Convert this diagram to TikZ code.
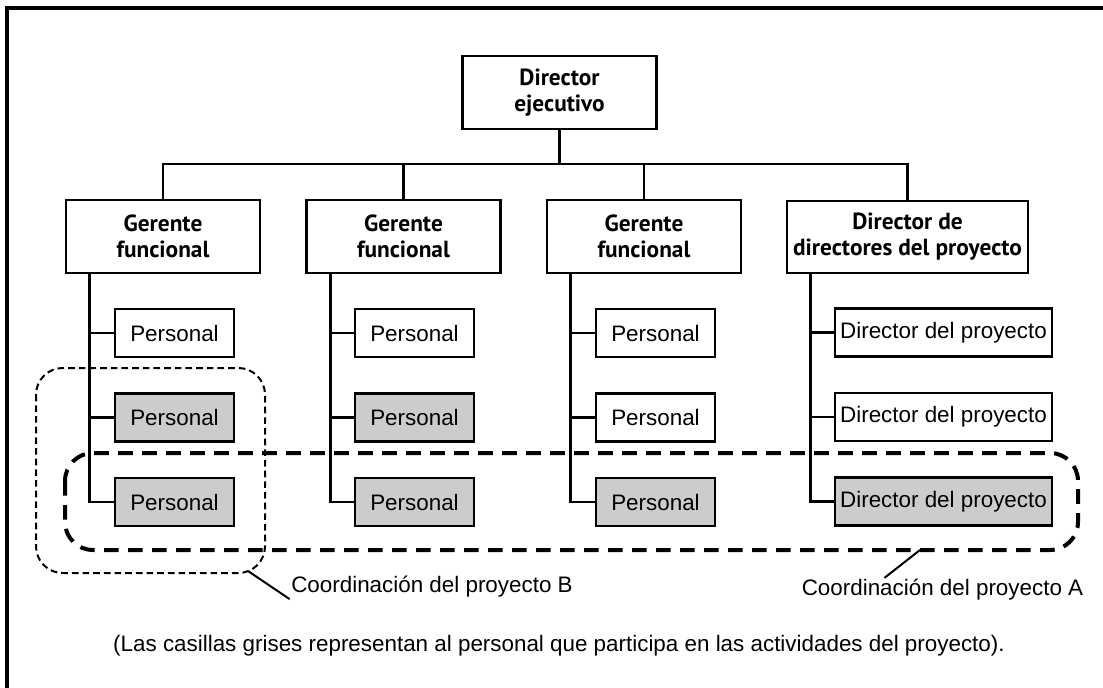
\documentclass[tikz,border=0pt]{standalone}
\usepackage{fontspec}
\setmainfont{Liberation Sans}
\newfontfamily\titulo{PT Sans}
\usetikzlibrary{positioning}

\begin{document}
\begin{tikzpicture}[
        x=0.75pt, y=-0.75pt,
        node distance=63.4pt,
        jefe/.style={
            rectangle,
            draw=black,
            line width=1.9pt,
            fill=white,
            minimum width=145.5pt,
            minimum height=54.75pt,
            inner sep=0pt,
            align=center,
            font=\titulo\fontsize{17.5}{19.5}\selectfont\bfseries
        },
        personal/.style={
            rectangle,
            draw=black,
            line width=1.9pt,
            fill=white,
            minimum width=89.25pt,
            minimum height=36pt,
            inner sep=0pt,
            font=\fontsize{16.8}{20}\selectfont
        },
        gris/.style={fill=black!20},
        linea/.style={line width=1.9pt},
        grupoA/.style={line width=3pt, dash pattern=on 11pt off 7pt, rounded corners=21pt},
        grupoB/.style={line width=1.5pt, dash pattern=on 5pt off 3pt, rounded corners=20pt},
        etiqueta/.style={inner sep=1pt, font=\fontsize{16.8}{20}\selectfont}
    ]
    \useasboundingbox (0,0) rectangle (1103,688);
    \draw[line width=3pt] (7,688) -- (7,8.5) -- (1103,8.5);

    % jefes
    \node[jefe] (dir) at (559.5,92.5) {Director\\ ejecutivo};
    \node[jefe] (g1) at (163,236.5) {Gerente\\ funcional};
    \node[jefe] (g2) at (403.5,236.5) {Gerente\\ funcional};
    \node[jefe] (g3) at (644,236.5) {Gerente\\ funcional};
    \node[jefe, minimum width=180.75pt, minimum height=54pt] (g4) at (907.5,237) {Director de\\ directores del proyecto};

    % personal
    \node[personal] (p11) at (174.5,333) {Personal};
    \node[personal, gris, below of=p11] (p12) {Personal};
    \node[personal, gris, below of=p12] (p13) {Personal};
    \node[personal] (p21) at (414.5,333) {Personal};
    \node[personal, gris, below of=p21] (p22) {Personal};
    \node[personal, gris, below of=p22] (p23) {Personal};
    \node[personal] (p31) at (655.5,333) {Personal};
    \node[personal, below of=p31] (p32) {Personal};
    \node[personal, gris, below of=p32] (p33) {Personal};
    \node[personal, minimum width=162.75pt] (d1) at (943.5,332.5) {Director del proyecto};
    \node[personal, minimum width=162.75pt, below of=d1] (d2) {Director del proyecto};
    \node[personal, gris, minimum width=162.75pt, below of=d2] (d3) {Director del proyecto};

    % lineas de mando
    \coordinate (bus) at (0,164);
    \draw[linea] (dir.south) -- (dir.south |- bus);
    \draw[linea] (g1.north) -- (g1.north |- bus) -- (g4.north |- bus) -- (g4.north);
    \draw[linea] (g2.north) -- (g2.north |- bus);
    \draw[linea] (g3.north) -- (g3.north |- bus);

    \coordinate (t1) at ([xshift=18.75pt]g1.south west);
    \coordinate (t2) at ([xshift=18.75pt]g2.south west);
    \coordinate (t3) at ([xshift=18.75pt]g3.south west);
    \coordinate (t4) at ([xshift=18.75pt]g4.south west);
    \draw[linea] (t1) |- (p13.west);
    \draw[linea] (p11.west) -- (p11.west -| t1);
    \draw[linea] (p12.west) -- (p12.west -| t1);
    \draw[linea] (t2) |- (p23.west);
    \draw[linea] (p21.west) -- (p21.west -| t2);
    \draw[linea] (p22.west) -- (p22.west -| t2);
    \draw[linea] (t3) |- (p33.west);
    \draw[linea] (p31.west) -- (p31.west -| t3);
    \draw[linea] (p32.west) -- (p32.west -| t3);
    \draw[linea] (t4) |- (d3.west);
    \draw[linea] (d1.west) -- (d1.west -| t4);
    \draw[linea] (d2.west) -- (d2.west -| t4);

    % coordinacion
    \draw[grupoB] (36,368) rectangle (265,573);
    \draw[grupoA] (65,453) rectangle (1078,550);

    \node[etiqueta] (labB) at (432,587) {Coordinación del proyecto B};
    \node[etiqueta] (labA) at (942.5,590) {Coordinación del proyecto A};
    \coordinate (bordeB) at (248,571);
    \coordinate (bordeA) at (920,550);
    \draw[line width=1.5pt] (bordeB) -- (labB.south west);
    \draw[line width=1.5pt] (bordeA) -- ([xshift=-43.5pt]labA.north);

    \node[etiqueta] (nota) at (559,646) {(Las casillas grises representan al personal que participa en las actividades del proyecto).};
\end{tikzpicture}
\end{document}
